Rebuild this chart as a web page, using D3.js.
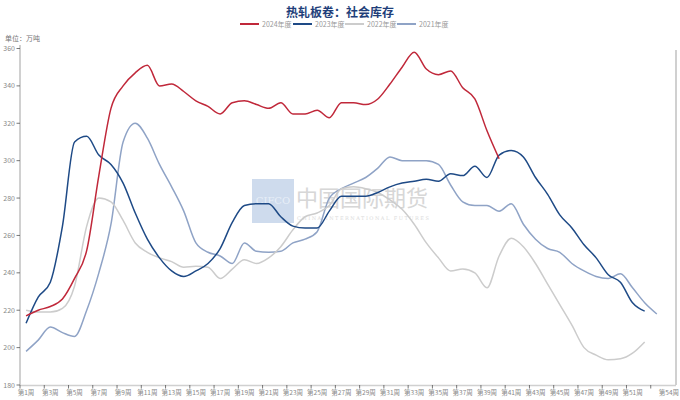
<!DOCTYPE html>
<html><head><meta charset="utf-8">
<script src="https://cdn.jsdelivr.net/npm/d3@7"></script>
<style>
body{margin:0;background:#fff;}
svg{display:block;font-family:"Noto Sans CJK SC","Noto Sans",sans-serif;}
</style></head>
<body><svg id="c" width="680" height="400"></svg>
<script>
const title = "热轧板卷：社会库存";
const unitLabel = "单位：万吨";
const weeks = d3.range(1, 55).map(i => "第" + i + "周");
const seriesNames = ["2024年度", "2023年度", "2022年度", "2021年度"];
const seriesColors = ["#c0283a", "#1e4a86", "#cccccc", "#8fa3c6"];
const yTicks = [180, 200, 220, 240, 260, 280, 300, 320, 340, 360];
const xLabelWeeks = [1,3,5,7,9,11,13,15,17,19,21,23,25,27,29,31,33,35,37,39,41,43,45,47,49,51,54];

const v2024 = [217,220,222,226,237,252,292,328,340,347,351,340,341,337,332,329,325,331,332,330,328,331,325,325,327,323,331,331,330,333,341,350,358,349,346,348,339,333,316,301];
const v2023 = [213,227,235,265,310,313,303,298,288,272,258,248,241,238,241,245,253,267,276,277,277,270,265,264,264,273,281,281,281,283,286,288,289,290,289,293,292,297,291,303,305.5,302,291,282,271,264,255,248,239,235,224,219.5];
const v2022 = [220,219,219,221,233,265,280,278,268,256,251,248,246,243,243.5,243,237,242,247,245,248,254,263,270,272,276,285,286,285,283,279,274,266,256,248,241,242,240,232,249,258.5,254,245,234,223,212,200,196,193.5,194,197,203];
const v2021 = [198,204,211,208,206,220,240,266,310,320,312,298,286,273,256,251,249,245,256,251.5,251,251.5,256,258,262,280,285,288,291,296,302,300,300,300,298,287,278,276,276,273,277,266,258,253,251,245,241,238,237,239.5,232,224,218];
const allSeries = [v2024, v2023, v2022, v2021];

const svg = d3.select("#c");
const x = d3.scaleBand().domain(weeks).range([20, 675]).padding(0);
const y = d3.scaleLinear().domain([180, 360]).range([385, 48.5]);

// title
svg.append("text").attr("x", 340).attr("y", 17).attr("text-anchor", "middle")
  .attr("font-size", 12).attr("font-weight", "bold").attr("fill", "#1f3f7a").text(title);

// legend
const legendX = [240, 293, 345, 397];
seriesNames.forEach((n, i) => {
  const g = svg.append("g");
  g.append("line").attr("x1", legendX[i]).attr("x2", legendX[i] + 19).attr("y1", 24).attr("y2", 24)
    .attr("stroke", seriesColors[i]).attr("stroke-width", 2);
  g.append("text").attr("x", legendX[i] + 22).attr("y", 26.5).attr("font-size", 7).attr("fill", "#999").text(n);
});

// unit
svg.append("text").attr("x", 5).attr("y", 41).attr("font-size", 7).attr("fill", "#777").text(unitLabel);

// watermark
const wm = svg.append("g").attr("opacity", 0.9);
wm.append("rect").attr("x", 252).attr("y", 179).attr("width", 42).attr("height", 44).attr("fill", "#c9d8ec");
wm.append("text").attr("x", 273).attr("y", 204).attr("text-anchor", "middle").attr("font-size", 10)
  .attr("font-family", "DejaVu Serif").attr("fill", "#e6edf7").text("CIFCO");
wm.append("text").attr("x", 296).attr("y", 206).attr("font-size", 22).attr("fill", "#d3d3d3")
  .attr("letter-spacing", 0).text("中国国际期货");
wm.append("text").attr("x", 297).attr("y", 220).attr("font-size", 5).attr("fill", "#d8d8d8")
  .attr("font-family", "DejaVu Serif").attr("letter-spacing", 1.5).text("CHINA INTERNATIONAL FUTURES");

// axes lines
svg.append("line").attr("x1", 20).attr("x2", 20).attr("y1", 45).attr("y2", 385).attr("stroke", "#d0d0d0").attr("stroke-width", 2);
svg.append("line").attr("x1", 676).attr("x2", 676).attr("y1", 50).attr("y2", 385).attr("stroke", "#d0d0d0").attr("stroke-width", 2);
svg.append("line").attr("x1", 20).attr("x2", 676).attr("y1", 385.5).attr("y2", 385.5).attr("stroke", "#d0d0d0").attr("stroke-width", 1.5);

// y ticks
yTicks.forEach(t => {
  svg.append("line").attr("x1", 16.5).attr("x2", 20).attr("y1", y(t)).attr("y2", y(t)).attr("stroke", "#555").attr("stroke-width", 0.8);
  svg.append("text").attr("x", 15).attr("y", y(t) + 2.5).attr("text-anchor", "end").attr("font-size", 7).attr("fill", "#888").text(t);
});

// x ticks
weeks.forEach((w, i) => {
  if (i % 2 === 0) {
    svg.append("line").attr("x1", x(w)).attr("x2", x(w)).attr("y1", 385).attr("y2", 388.5).attr("stroke", "#555").attr("stroke-width", 0.8);
  }
});
xLabelWeeks.forEach(k => {
  const w = "第" + k + "周";
  svg.append("text").attr("x", x(w) + x.bandwidth() / 2).attr("y", 395).attr("text-anchor", "middle")
    .attr("font-size", 6.5).attr("fill", "#888").text(w);
});

// lines (draw in reverse order so 2024 on top)
const line = d3.line()
  .defined(d => d != null)
  .x((d, i) => x(weeks[i]) + x.bandwidth() / 2)
  .y(d => y(d))
  .curve(d3.curveMonotoneX);
[3, 2, 1, 0].forEach(si => {
  svg.append("path").datum(allSeries[si]).attr("d", line).attr("fill", "none")
    .attr("stroke", seriesColors[si]).attr("stroke-width", 1.5);
});
</script></body></html>
